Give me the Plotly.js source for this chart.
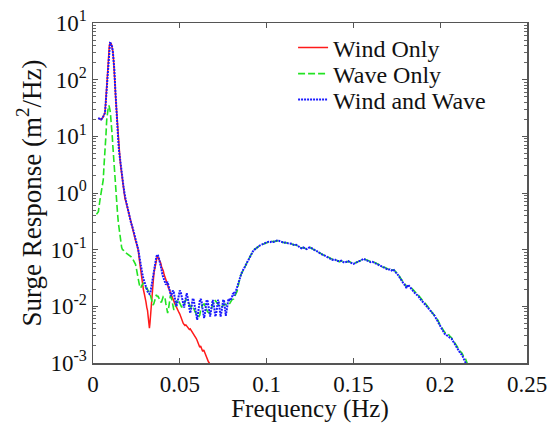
<!DOCTYPE html>
<html><head><meta charset="utf-8">
<script src="https://cdn.plot.ly/plotly-3.0.1.min.js"></script>
<style>html,body{margin:0;padding:0;background:#fff}#chart{width:553px;height:423px}</style>
</head><body><div id="chart"></div>
<script>
// ---- Data ----
const seriesNames = ['Wind Only', 'Wave Only', 'Wind and Wave'];

const freqWind = [0.0030,0.0040,0.0046,0.0055,0.0063,0.0069,0.0073,0.0079,0.0085,0.0090,0.0094,0.0098,0.0102,0.0106,0.0110,0.0114,0.0117,0.0120,0.0123,0.0127,0.0130,0.0133,0.0137,0.0140,0.0143,0.0146,0.0150,0.0153,0.0156,0.0160,0.0165,0.0170,0.0175,0.0180,0.0184,0.0190,0.0194,0.0200,0.0205,0.0210,0.0215,0.0220,0.0226,0.0232,0.0238,0.0244,0.0250,0.0256,0.0261,0.0266,0.0270,0.0275,0.0280,0.0285,0.0290,0.0295,0.0300,0.0305,0.0310,0.0314,0.0318,0.0322,0.0325,0.0328,0.0332,0.0336,0.0340,0.0344,0.0348,0.0352,0.0357,0.0362,0.0366,0.0370,0.0374,0.0378,0.0382,0.0386,0.0390,0.0395,0.0400,0.0405,0.0410,0.0415,0.0420,0.0424,0.0430,0.0435,0.0440,0.0444,0.0450,0.0455,0.0460,0.0465,0.0470,0.0475,0.0480,0.0485,0.0490,0.0495,0.0500,0.0505,0.0510,0.0515,0.0520,0.0525,0.0530,0.0535,0.0540,0.0545,0.0550,0.0555,0.0560,0.0565,0.0570,0.0575,0.0580,0.0585,0.0590,0.0595,0.0600,0.0605,0.0610,0.0615,0.0620,0.0626,0.0632,0.0638,0.0645,0.0650,0.0655,0.0660,0.0665,0.0670,0.0675,0.0680];
const surgeWind = [21,20,19.8,21,23,26,38,75,160,290,400,440,440,420,380,320,260,200,148,80,50,36,24,17,11,7.6,5.5,4.5,3.8,2.9,2.2,1.7,1.3,1.0,0.8,0.7,0.62,0.5,0.43,0.38,0.32,0.28,0.25,0.21,0.17,0.15,0.13,0.11,0.095,0.07,0.055,0.042,0.033,0.025,0.02,0.017,0.015,0.012,0.0095,0.0085,0.0065,0.0045,0.0041,0.005,0.0076,0.012,0.017,0.022,0.03,0.04,0.05,0.062,0.07,0.076,0.074,0.07,0.068,0.064,0.058,0.05,0.046,0.042,0.036,0.033,0.03,0.027,0.024,0.021,0.02,0.018,0.016,0.0145,0.0135,0.012,0.011,0.0105,0.0098,0.0088,0.0082,0.0078,0.0073,0.0065,0.006,0.0055,0.005,0.0048,0.0046,0.0047,0.0045,0.0042,0.0042,0.0039,0.004,0.0038,0.0036,0.0034,0.0033,0.0031,0.0029,0.0027,0.0025,0.0022,0.0021,0.0019,0.002,0.0018,0.0016,0.0017,0.0015,0.0013,0.0012,0.0011,0.00105,0.001,0.00095,0.0009];

const freqWave = [0.0020,0.0031,0.0040,0.0050,0.0059,0.0063,0.0069,0.0075,0.0079,0.0085,0.0089,0.0092,0.0095,0.0098,0.0101,0.0104,0.0108,0.0111,0.0114,0.0117,0.0120,0.0123,0.0127,0.0131,0.0136,0.0141,0.0146,0.0150,0.0155,0.0160,0.0165,0.0170,0.0175,0.0180,0.0185,0.0190,0.0195,0.0200,0.0205,0.0210,0.0215,0.0220,0.0225,0.0230,0.0235,0.0240,0.0245,0.0250,0.0255,0.0260,0.0265,0.0270,0.0275,0.0280,0.0285,0.0290,0.0295,0.0300,0.0305,0.0310,0.0315,0.0320,0.0325,0.0330,0.0335,0.0340,0.0345,0.0350,0.0355,0.0360,0.0365,0.0370,0.0375,0.0380,0.0385,0.0390,0.0395,0.0400,0.0405,0.0410,0.0415,0.0420,0.0425,0.0430,0.0435,0.0440,0.0445,0.0450,0.0455,0.0460,0.0465,0.0470,0.0475,0.0480,0.0485,0.0490,0.0495,0.0500,0.0505,0.0510,0.0515,0.0520,0.0525,0.0530,0.0535,0.0540,0.0545,0.0550,0.0555,0.0560,0.0565,0.0570,0.0575,0.0580,0.0590,0.0600,0.0610,0.0615,0.0620,0.0630,0.0640,0.0650,0.0660,0.0670,0.0680,0.0690,0.0700,0.0710,0.0720,0.0730,0.0740,0.0750,0.0760,0.0770,0.0780,0.0790,0.0800,0.0810,0.0820,0.0830,0.0840,0.0850,0.0860,0.0870,0.0880,0.0890,0.0900,0.0910,0.0920,0.0930,0.0940,0.0950,0.0960,0.0970,0.0980,0.0990,0.1000,0.1010,0.1020,0.1030,0.1040,0.1050,0.1060,0.1070,0.1080,0.1090,0.1100,0.1110,0.1120,0.1130,0.1140,0.1150,0.1160,0.1170,0.1180,0.1190,0.1200,0.1210,0.1220,0.1230,0.1240,0.1250,0.1260,0.1270,0.1280,0.1290,0.1300,0.1310,0.1320,0.1330,0.1340,0.1350,0.1360,0.1370,0.1380,0.1390,0.1400,0.1410,0.1420,0.1430,0.1440,0.1450,0.1460,0.1470,0.1480,0.1490,0.1500,0.1510,0.1520,0.1530,0.1540,0.1550,0.1560,0.1570,0.1580,0.1590,0.1600,0.1610,0.1620,0.1630,0.1640,0.1650,0.1660,0.1670,0.1680,0.1690,0.1700,0.1710,0.1720,0.1730,0.1740,0.1750,0.1760,0.1770,0.1780,0.1790,0.1800,0.1805,0.1815,0.1825,0.1835,0.1845,0.1855,0.1865,0.1875,0.1885,0.1895,0.1905,0.1915,0.1925,0.1935,0.1945,0.1955,0.1965,0.1975,0.1985,0.1995,0.2005,0.2015,0.2025,0.2035,0.2045,0.2055,0.2065,0.2075,0.2085,0.2095,0.2105,0.2115,0.2125,0.2135,0.2145,0.2155,0.2160];
const surgeWave = [0.42,0.47,0.75,1.1,1.7,2.9,5,11,19.5,31,34,35,33,29,24,19.5,14,10,7,5,3.6,2.6,1.5,1.0,0.67,0.45,0.3,0.24,0.18,0.14,0.11,0.1,0.098,0.092,0.09,0.087,0.085,0.083,0.08,0.078,0.077,0.075,0.072,0.068,0.064,0.06,0.055,0.046,0.036,0.03,0.026,0.022,0.021,0.023,0.025,0.026,0.024,0.022,0.021,0.021,0.019,0.018,0.017,0.016,0.014,0.012,0.0105,0.011,0.013,0.015,0.016,0.015,0.015,0.014,0.013,0.012,0.012,0.013,0.015,0.015,0.014,0.011,0.0085,0.0076,0.009,0.012,0.015,0.015,0.013,0.01,0.0088,0.0087,0.0098,0.012,0.013,0.013,0.012,0.011,0.01,0.0098,0.0098,0.0098,0.011,0.012,0.013,0.013,0.013,0.012,0.0105,0.0098,0.0098,0.0105,0.0098,0.009,0.0078,0.007,0.0066,0.007,0.0085,0.0105,0.011,0.0095,0.008,0.0076,0.0085,0.011,0.013,0.012,0.0105,0.0098,0.0098,0.0105,0.011,0.0105,0.0105,0.0115,0.013,0.0135,0.016,0.0185,0.026,0.035,0.04,0.047,0.054,0.062,0.071,0.081,0.09,0.101,0.106,0.113,0.117,0.121,0.127,0.129,0.133,0.137,0.137,0.139,0.138,0.14,0.144,0.143,0.141,0.137,0.133,0.133,0.131,0.128,0.127,0.125,0.121,0.121,0.116,0.112,0.107,0.109,0.105,0.103,0.106,0.109,0.105,0.101,0.097,0.095,0.09,0.086,0.083,0.079,0.078,0.074,0.073,0.069,0.067,0.067,0.066,0.064,0.061,0.063,0.062,0.06,0.06,0.062,0.061,0.058,0.057,0.058,0.06,0.063,0.065,0.066,0.068,0.067,0.065,0.063,0.061,0.06,0.06,0.058,0.056,0.053,0.052,0.049,0.049,0.047,0.045,0.044,0.044,0.044,0.042,0.039,0.036,0.032,0.028,0.026,0.024,0.022,0.023,0.023,0.021,0.019,0.018,0.017,0.0155,0.014,0.013,0.012,0.0112,0.0102,0.0093,0.0086,0.0078,0.0072,0.0065,0.0058,0.005,0.0044,0.0038,0.0035,0.0034,0.0033,0.003,0.0028,0.0025,0.0022,0.002,0.0018,0.0016,0.0015,0.0013,0.0012,0.001,0.0009];

const freqBoth = [0.0030,0.0040,0.0046,0.0055,0.0063,0.0069,0.0073,0.0079,0.0085,0.0090,0.0094,0.0098,0.0102,0.0106,0.0110,0.0114,0.0117,0.0120,0.0123,0.0127,0.0130,0.0133,0.0137,0.0140,0.0143,0.0146,0.0150,0.0153,0.0156,0.0160,0.0165,0.0170,0.0175,0.0180,0.0184,0.0190,0.0194,0.0200,0.0205,0.0210,0.0215,0.0220,0.0226,0.0232,0.0238,0.0244,0.0250,0.0256,0.0261,0.0266,0.0270,0.0275,0.0280,0.0285,0.0290,0.0295,0.0300,0.0305,0.0310,0.0315,0.0320,0.0325,0.0330,0.0335,0.0340,0.0345,0.0350,0.0355,0.0360,0.0365,0.0370,0.0375,0.0380,0.0385,0.0390,0.0395,0.0400,0.0405,0.0410,0.0415,0.0420,0.0425,0.0430,0.0435,0.0440,0.0445,0.0450,0.0455,0.0460,0.0465,0.0470,0.0475,0.0480,0.0485,0.0490,0.0495,0.0500,0.0505,0.0510,0.0515,0.0520,0.0525,0.0530,0.0535,0.0540,0.0545,0.0550,0.0555,0.0560,0.0565,0.0570,0.0575,0.0580,0.0585,0.0590,0.0595,0.0600,0.0605,0.0610,0.0615,0.0620,0.0625,0.0630,0.0635,0.0640,0.0645,0.0650,0.0655,0.0660,0.0665,0.0670,0.0675,0.0680,0.0685,0.0690,0.0695,0.0700,0.0705,0.0710,0.0715,0.0720,0.0725,0.0730,0.0735,0.0740,0.0745,0.0750,0.0755,0.0760,0.0765,0.0770,0.0775,0.0780,0.0785,0.0790,0.0795,0.0800,0.0805,0.0810,0.0815,0.0820,0.0825,0.0830,0.0835,0.0840,0.0845,0.0850,0.0855,0.0860,0.0865,0.0870,0.0875,0.0880,0.0885,0.0890,0.0895,0.0900,0.0905,0.0910,0.0915,0.0920,0.0925,0.0930,0.0940,0.0950,0.0960,0.0970,0.0980,0.0990,0.1000,0.1010,0.1020,0.1030,0.1040,0.1050,0.1060,0.1070,0.1080,0.1090,0.1100,0.1110,0.1120,0.1130,0.1140,0.1150,0.1160,0.1170,0.1180,0.1190,0.1200,0.1210,0.1220,0.1230,0.1240,0.1250,0.1260,0.1270,0.1280,0.1290,0.1300,0.1310,0.1320,0.1330,0.1340,0.1350,0.1360,0.1370,0.1380,0.1390,0.1400,0.1410,0.1420,0.1430,0.1440,0.1450,0.1460,0.1470,0.1480,0.1490,0.1500,0.1510,0.1520,0.1530,0.1540,0.1550,0.1560,0.1570,0.1580,0.1590,0.1600,0.1610,0.1620,0.1630,0.1640,0.1650,0.1660,0.1670,0.1680,0.1690,0.1700,0.1710,0.1720,0.1730,0.1740,0.1750,0.1760,0.1770,0.1780,0.1790,0.1800,0.1805,0.1815,0.1825,0.1835,0.1845,0.1855,0.1865,0.1875,0.1885,0.1895,0.1905,0.1915,0.1925,0.1935,0.1945,0.1955,0.1965,0.1975,0.1985,0.1995,0.2005,0.2015,0.2025,0.2035,0.2045,0.2055,0.2065,0.2075,0.2085,0.2095,0.2105,0.2115,0.2125,0.2135,0.2145,0.2150];
const surgeBoth = [21,20,19.8,21,23,26,38,75,160,290,400,445,440,420,380,320,260,200,150,82,52,36,25,17,11.5,8,5.6,4.6,3.9,3.0,2.3,1.7,1.35,1.05,0.82,0.72,0.64,0.52,0.45,0.39,0.33,0.29,0.26,0.22,0.18,0.16,0.14,0.12,0.1,0.08,0.065,0.05,0.042,0.036,0.031,0.027,0.024,0.022,0.02,0.018,0.017,0.0165,0.017,0.021,0.026,0.034,0.045,0.055,0.066,0.075,0.082,0.078,0.07,0.062,0.052,0.044,0.036,0.033,0.03,0.026,0.024,0.026,0.027,0.023,0.02,0.016,0.015,0.017,0.019,0.018,0.015,0.012,0.01,0.011,0.014,0.017,0.019,0.018,0.015,0.012,0.0098,0.0095,0.012,0.015,0.017,0.0145,0.011,0.0085,0.0076,0.009,0.012,0.0138,0.013,0.0105,0.0078,0.006,0.0058,0.0075,0.01,0.0125,0.0135,0.0125,0.0095,0.007,0.0062,0.0075,0.0105,0.013,0.0125,0.0095,0.007,0.0066,0.0085,0.0115,0.013,0.011,0.0085,0.0066,0.0075,0.011,0.013,0.0115,0.0085,0.0066,0.008,0.011,0.013,0.0125,0.009,0.0068,0.0085,0.012,0.0135,0.013,0.014,0.0135,0.014,0.0165,0.017,0.0155,0.0175,0.019,0.021,0.024,0.029,0.033,0.036,0.038,0.041,0.044,0.046,0.05,0.055,0.058,0.063,0.066,0.07,0.076,0.08,0.087,0.092,0.097,0.1,0.107,0.112,0.118,0.122,0.126,0.13,0.134,0.138,0.136,0.14,0.137,0.141,0.145,0.144,0.14,0.136,0.132,0.134,0.13,0.127,0.128,0.124,0.12,0.122,0.117,0.111,0.106,0.11,0.104,0.102,0.107,0.11,0.106,0.1,0.097,0.094,0.089,0.085,0.082,0.08,0.077,0.075,0.072,0.07,0.066,0.068,0.065,0.063,0.062,0.064,0.061,0.059,0.061,0.063,0.06,0.057,0.056,0.058,0.061,0.062,0.064,0.067,0.069,0.066,0.064,0.062,0.06,0.061,0.059,0.057,0.055,0.054,0.051,0.05,0.048,0.046,0.044,0.045,0.043,0.045,0.041,0.038,0.035,0.031,0.027,0.025,0.023,0.021,0.024,0.022,0.02,0.018,0.017,0.016,0.015,0.0135,0.0125,0.0115,0.011,0.0098,0.009,0.0084,0.0076,0.007,0.0063,0.0055,0.0048,0.0042,0.0036,0.0033,0.0031,0.003,0.0028,0.0027,0.0024,0.0021,0.0019,0.0017,0.0015,0.0014,0.0012,0.00105,0.00095];

const xTickVals = [0, 0.05, 0.1, 0.15, 0.2, 0.25];
const xTickText = ['0', '0.05', '0.1', '0.15', '0.2', '0.25'];
const yTickVals = [1e-3, 1e-2, 1e-1, 1e0, 1e1, 1e2, 1e3];
const yTickText = ['10<sup>-3</sup>', '10<sup>-2</sup>', '10<sup>-1</sup>', '10<sup>0</sup>', '10<sup>1</sup>', '10<sup>2</sup>', '10<sup>1</sup>'];

// ---- Styling ----
const serif = 'Liberation Serif, Times New Roman, serif';
const yMinor = [];
for (let e = -3; e < 3; e++) for (let m = 2; m <= 9; m++) yMinor.push(m * Math.pow(10, e));

const traces = [
  {x: freqWind, y: surgeWind, name: seriesNames[0], type: 'scatter', mode: 'lines',
   line: {color: '#ff1a1a', width: 1.5}, legend: 'legend'},
  {x: freqWave, y: surgeWave, name: seriesNames[1], type: 'scatter', mode: 'lines',
   line: {color: '#22e322', width: 1.6, dash: '7px,3px'}, legend: 'legend2'},
  {x: freqBoth, y: surgeBoth, name: seriesNames[2], type: 'scatter', mode: 'lines',
   line: {color: '#1a1aff', width: 2, dash: '2px,1px'}, legend: 'legend3'}
];

const legendBase = {x: 0.461, xanchor: 'left', yanchor: 'middle', bgcolor: 'rgba(0,0,0,0)',
  font: {family: serif, size: 24, color: '#111'}};

const layout = {
  width: 553, height: 423,
  margin: {l: 93, r: 26, t: 23, b: 60},
  paper_bgcolor: '#fff', plot_bgcolor: '#fff',
  showlegend: true,
  legend: Object.assign({y: 0.9265}, legendBase),
  legend2: Object.assign({y: 0.85}, legendBase),
  legend3: Object.assign({y: 0.7735}, legendBase),
  xaxis: {
    range: [0, 0.25], tickmode: 'array', tickvals: xTickVals, ticktext: xTickText,
    showgrid: false, zeroline: false, showline: true, mirror: 'ticks',
    linecolor: '#555', linewidth: 1.5, ticks: 'inside', ticklen: 5, tickcolor: '#555',
    tickfont: {family: serif, size: 23, color: '#111'},
    title: {text: 'Frequency (Hz)', font: {family: serif, size: 25, color: '#111'}, standoff: 4}
  },
  yaxis: {
    type: 'log', range: [-3, 3], tickmode: 'array', tickvals: yTickVals, ticktext: yTickText,
    showgrid: false, zeroline: false, showline: true, mirror: 'ticks',
    linecolor: '#555', linewidth: 1.5, ticks: 'inside', ticklen: 5, tickcolor: '#555',
    minor: {tickmode: 'array', tickvals: yMinor, ticks: 'inside', ticklen: 3, tickcolor: '#666', showgrid: false},
    tickfont: {family: serif, size: 23, color: '#111'},
    title: {text: 'Surge Response (m<sup>2</sup>/Hz)', font: {family: serif, size: 27, color: '#111'}, standoff: 1}
  }
};

Plotly.newPlot('chart', traces, layout, {displayModeBar: false, staticPlot: true});
</script>
</body></html>
